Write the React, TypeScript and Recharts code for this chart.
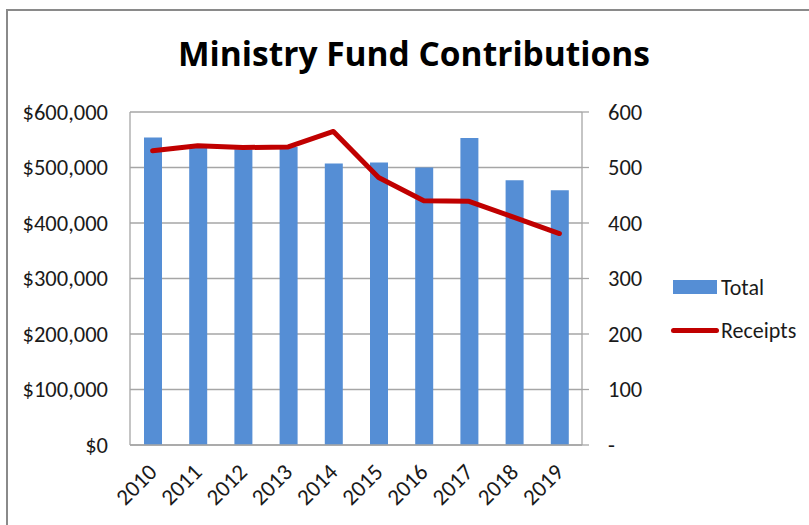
import React from 'react';
import { ComposedChart, Bar, Line, XAxis, YAxis, CartesianGrid } from 'recharts';

const years = ['2010', '2011', '2012', '2013', '2014', '2015', '2016', '2017', '2018', '2019'];
const totals = [554000, 537000, 533000, 537000, 507000, 509000, 500000, 553000, 477000, 459000];
const receipts = [530, 539, 536, 537, 565, 482, 440, 439, 410, 381];
const leftTicks = [0, 100000, 200000, 300000, 400000, 500000, 600000];
const rightTicks = [0, 100, 200, 300, 400, 500, 600];
const seriesNames = ['Total', 'Receipts'];

const data = years.map((y, i) => ({ year: y, Total: totals[i], Receipts: receipts[i] }));

const FONT = 'Carlito, Calibri, Lato, sans-serif';
const TEXT = '#1a1a1a';
const BLUE = '#558ED5';
const RED = '#C00000';

const fmtMoney = (v: number) => '$' + v.toLocaleString('en-US');
const fmtRight = (v: number) => (v === 0 ? '-' : String(v));

export default function App() {
  return (
    <div style={{ position: 'absolute', left: 0, top: 0, width: 809, height: 525, background: '#fff', overflow: 'hidden' }}>
      <div
        style={{
          position: 'absolute',
          left: 6,
          top: 9,
          width: 850,
          height: 600,
          border: '2px solid #8a8a8a',
          boxSizing: 'border-box',
        }}
      />
      <div
        style={{
          position: 'absolute',
          left: 0,
          width: 828,
          top: 33,
          textAlign: 'center',
          fontFamily: '"Open Sans", sans-serif',
          fontWeight: 'bold',
          fontSize: 33.5,
          color: '#000',
          lineHeight: '40px',
        }}
      >
        Ministry Fund Contributions
      </div>
      <div style={{ position: 'absolute', left: 0, top: 0 }}>
        <ComposedChart
          width={809}
          height={525}
          data={data}
          margin={{ top: 112, right: 147, bottom: 20, left: 10 }}
          barCategoryGap="30%"
        >
          <CartesianGrid vertical={false} stroke="#a6a6a6" strokeWidth={1.3} yAxisId="left" />
          <XAxis
            dataKey="year"
            tickLine={false}
            axisLine={{ stroke: '#a6a6a6', strokeWidth: 1.3 }}
            interval={0}
            angle={-45}
            textAnchor="end"
            height={60}
            tick={{ fontFamily: FONT, fontSize: 23, fill: TEXT, dx: -6 }}
            tickSize={0}
            tickMargin={17}
          />
          <YAxis
            yAxisId="left"
            orientation="left"
            domain={[0, 600000]}
            ticks={leftTicks}
            tickFormatter={fmtMoney}
            width={120}
            tickLine={false}
            tickSize={0}
            tickMargin={22}
            axisLine={{ stroke: '#a6a6a6', strokeWidth: 1.3 }}
            tick={{ fontFamily: FONT, fontSize: 22.5, fill: TEXT }}
            interval={0}
          />
          <YAxis
            yAxisId="right"
            orientation="right"
            domain={[0, 600]}
            ticks={rightTicks}
            tickFormatter={fmtRight}
            width={80}
            tickLine={{ stroke: '#a6a6a6', strokeWidth: 1.3 }}
            tickSize={7}
            tickMargin={19}
            axisLine={{ stroke: '#a6a6a6', strokeWidth: 1.3 }}
            tick={{ fontFamily: FONT, fontSize: 22.5, fill: TEXT, textAnchor: 'start' }}
            interval={0}
          />
          <Bar yAxisId="left" dataKey="Total" fill={BLUE} barSize={18} isAnimationActive={false} />
          <Line
            yAxisId="right"
            dataKey="Receipts"
            stroke={RED}
            strokeWidth={5}
            dot={false}
            strokeLinecap="round"
            strokeLinejoin="round"
            isAnimationActive={false}
          />
        </ComposedChart>
      </div>
      <div style={{ position: 'absolute', left: 671, top: 274, fontFamily: FONT, fontSize: 22, color: TEXT }}>
        <div style={{ display: 'flex', alignItems: 'center', height: 26, marginBottom: 17 }}>
          <div style={{ width: 44, height: 14, background: BLUE, marginLeft: 2, marginRight: 4 }} />
          <span>{seriesNames[0]}</span>
        </div>
        <div style={{ display: 'flex', alignItems: 'center', height: 26 }}>
          <div style={{ width: 48, height: 5, background: RED, borderRadius: 3, marginRight: 2 }} />
          <span>{seriesNames[1]}</span>
        </div>
      </div>
    </div>
  );
}
